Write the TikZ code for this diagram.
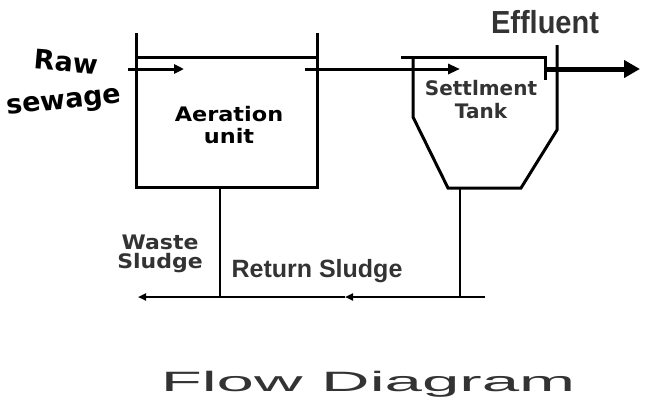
\documentclass[tikz,border=0pt]{standalone}
\usepackage{fontspec}
\setmainfont{Liberation Sans}
\newfontfamily\wideface{DejaVu Sans}
\usetikzlibrary{arrows.meta}
\definecolor{ink}{HTML}{333333}
\tikzset{
  pipe/.style={line width=3pt},
  sludge/.style={line width=2.4pt},
  lbl/.style={font=\wideface\bfseries, text=ink, align=center, inner sep=0pt},
}
\begin{document}
\begin{tikzpicture}[x=1pt,y=-1pt,line width=3pt,>={Triangle[length=10pt,width=9pt]}]
\useasboundingbox (0,0) rectangle (648,413);
% aeration unit
\coordinate (atl) at (136,33); \coordinate (atr) at (317,33);
\coordinate (abl) at (136,187); \coordinate (abr) at (317,187);
\coordinate (awl) at (136,57); \coordinate (awr) at (317,57);
\draw[pipe] (atl)--(abl)--(abr)--(atr); \draw[pipe] (awl)--(awr);
% settling tank
\coordinate (slip) at (401,57); \coordinate (swr) at (545,57); \coordinate (swb) at (545,80);
\coordinate (stl) at (413,57); \coordinate (scl) at (413,117); \coordinate (sbl) at (448,188);
\coordinate (sbr) at (521,188); \coordinate (scr) at (557,130); \coordinate (str) at (557,45);
\draw[pipe] (slip)--(swr)--(swb);
\draw[pipe] (stl)--(scl)--(sbl)--(sbr)--(scr)--(str);
% flows
\coordinate (in0) at (128,69); \coordinate (in1) at (184,69);
\coordinate (mid0) at (305,69); \coordinate (mid1) at (460,69);
\coordinate (eff0) at (545,69); \coordinate (eff1) at (640,69);
\draw[pipe,->] (in0)--(in1);
\draw[pipe,-{Triangle[length=12pt,width=10pt]}] (mid0)--(mid1);
\draw[line width=5pt,-{Triangle[length=16pt,width=17pt]}] (eff0)--(eff1);
\coordinate (ad) at (220,187); \coordinate (ad1) at (220,297);
\coordinate (sd) at (460,188); \coordinate (sd1) at (460,297);
\coordinate (rend) at (485,297); \coordinate (rmid) at (345,297); \coordinate (wend) at (138,297);
\draw[sludge] (ad)--(ad1); \draw[sludge] (sd)--(sd1);
\draw[sludge,-{Triangle[length=8pt,width=7pt]}] (rend)--(rmid);
\draw[sludge,-{Triangle[length=8pt,width=7pt]}] (rmid)--(wend);
% labels
\node[lbl,text=black,font=\wideface\bfseries\fontsize{27}{27}\selectfont,rotate=-5] (raw) at (66,62) {Raw};
\node[lbl,text=black,font=\wideface\bfseries\fontsize{27}{27}\selectfont,rotate=6] (sew) at (64,104) {sewage};
\node[lbl,text=black,font=\wideface\bfseries\fontsize{20}{22}\selectfont,xscale=1.12] (aer) at (229,125) {Aeration\\unit};
\node[lbl,font=\wideface\bfseries\fontsize{20}{23}\selectfont] (set) at (481,100) {Settlment\\Tank};
\node[lbl,font=\bfseries\fontsize{29}{29}\selectfont,yscale=1.1] (eff) at (545,22) {Effluent};
\node[lbl,font=\wideface\bfseries\fontsize{20}{19}\selectfont,xscale=1.1] (was) at (160,254) {Waste\\Sludge};
\node[lbl,font=\bfseries\fontsize{25}{25}\selectfont] (ret) at (317,271) {Return Sludge};
\node[lbl,font=\fontsize{28}{28}\selectfont,xscale=2.4] (ttl) at (368,384) {Flow Diagram};
\end{tikzpicture}
\end{document}
